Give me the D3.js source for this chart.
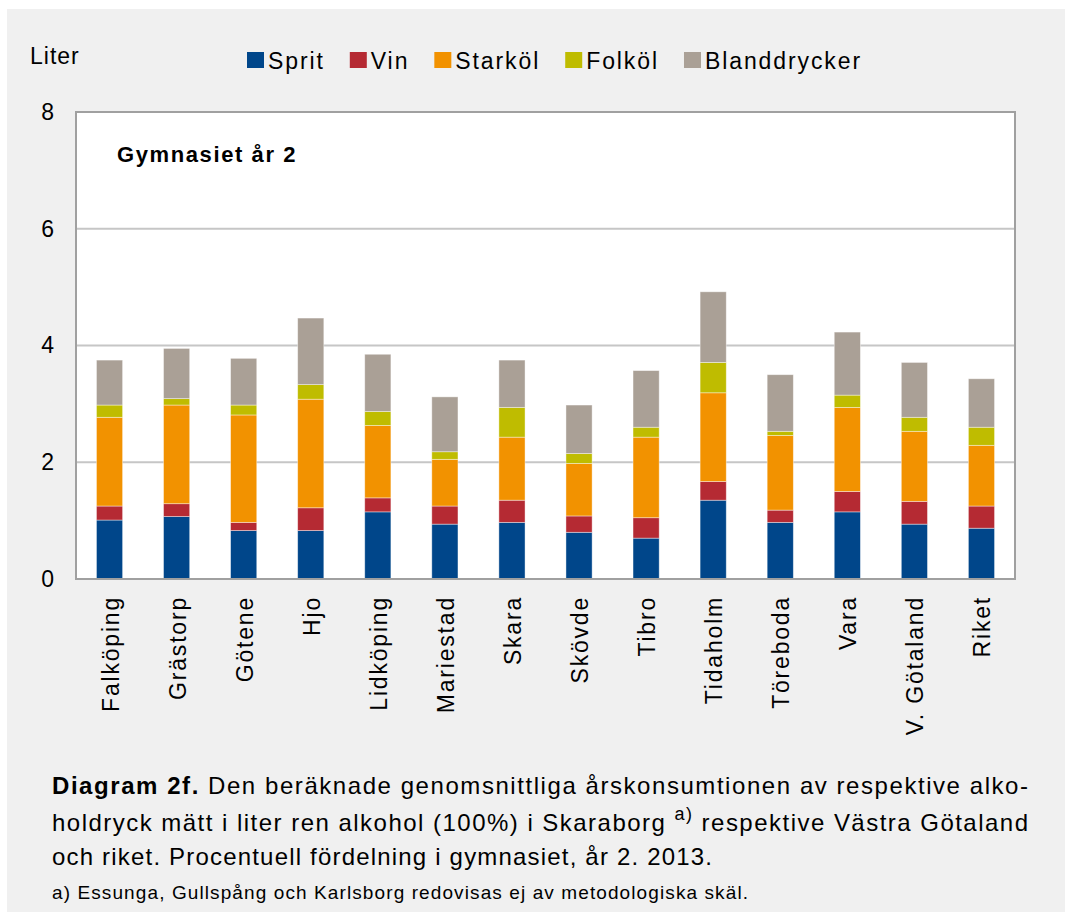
<!DOCTYPE html>
<html lang="sv">
<head>
<meta charset="utf-8">
<title>Diagram 2f</title>
<script src="https://d3js.org/d3.v7.min.js"></script>
<style>
  body { margin: 0; background: #fff; }
  svg text { font-family: "Liberation Sans", Arial, sans-serif; fill: #000; }
</style>
</head>
<body>
<script>
// kommuner + jamforelser
var kommuner = ["Falköping", "Grästorp", "Götene", "Hjo", "Lidköping", "Mariestad", "Skara",
                "Skövde", "Tibro", "Tidaholm", "Töreboda", "Vara", "V. Götaland", "Riket"];

// liter ren alkohol per dryckesslag
var sprit       = [1.01, 1.07, 0.83, 0.83, 1.15, 0.94, 0.97, 0.80, 0.70, 1.35, 0.97, 1.15, 0.94, 0.87];
var vin         = [0.24, 0.22, 0.14, 0.39, 0.24, 0.31, 0.38, 0.28, 0.35, 0.32, 0.21, 0.35, 0.39, 0.38];
var starkol     = [1.52, 1.69, 1.84, 1.86, 1.24, 0.80, 1.08, 0.90, 1.38, 1.52, 1.28, 1.44, 1.20, 1.04];
var folkol      = [0.21, 0.11, 0.17, 0.25, 0.24, 0.13, 0.51, 0.17, 0.17, 0.52, 0.07, 0.21, 0.24, 0.31];
var blandd      = [0.77, 0.86, 0.80, 1.14, 0.98, 0.94, 0.81, 0.83, 0.97, 1.21, 0.97, 1.08, 0.94, 0.83];

var serieNamn = ["Sprit", "Vin", "Starköl", "Folköl", "Blanddrycker"];
var serieFarg = ["#00468a", "#b52a33", "#f29200", "#bfbc00", "#aaa096"];
var yTicks = [0, 2, 4, 6, 8];

var W = 1065, H = 922;
var svg = d3.select("body").append("svg").attr("width", W).attr("height", H);

// grå bakgrund
svg.append("rect").attr("x", 7).attr("y", 9).attr("width", W - 7).attr("height", 903).attr("fill", "#f0f0f0");

var plot = {left: 76, right: 1015, top: 112, bottom: 579};

// tabell for stack
var rader = kommuner.map(function(k, i) {
  return {k: k, Sprit: sprit[i], Vin: vin[i], "Starköl": starkol[i], "Folköl": folkol[i], Blanddrycker: blandd[i]};
});
var stack = d3.stack().keys(serieNamn)(rader);

var x = d3.scaleBand().domain(kommuner).range([plot.left, plot.right]).paddingInner(0.61).paddingOuter(0.305);
var y = d3.scaleLinear().domain([0, 8]).range([plot.bottom, plot.top]);

svg.append("rect").attr("x", plot.left).attr("y", plot.top)
  .attr("width", plot.right - plot.left).attr("height", plot.bottom - plot.top)
  .attr("fill", "#fff");

// stodlinjer
svg.append("g").selectAll("line").data([2, 4, 6]).enter().append("line")
  .attr("x1", plot.left).attr("x2", plot.right)
  .attr("y1", function(d) { return y(d); }).attr("y2", function(d) { return y(d); })
  .attr("stroke", "#c6c6c6").attr("stroke-width", 2);

// staplar
svg.append("g").selectAll("g").data(stack).enter().append("g")
  .attr("fill", function(d, i) { return serieFarg[i]; })
  .selectAll("rect").data(function(d) { return d; }).enter().append("rect")
  .attr("x", function(d) { return x(d.data.k); })
  .attr("width", x.bandwidth())
  .attr("y", function(d) { return y(d[1]); })
  .attr("height", function(d) { return y(d[0]) - y(d[1]); })
  .attr("stroke", "#ffffff").attr("stroke-opacity", 0.5).attr("stroke-width", 0.8);

// ram
svg.append("rect").attr("x", plot.left).attr("y", plot.top)
  .attr("width", plot.right - plot.left).attr("height", plot.bottom - plot.top)
  .attr("fill", "none").attr("stroke", "#a0a0a0").attr("stroke-width", 2);

// y-axel
var yAxis = d3.axisLeft(y).tickValues(yTicks).tickSize(0).tickPadding(22).tickFormat(d3.format("d"));
var gy = svg.append("g").attr("transform", "translate(" + plot.left + ",0)").call(yAxis);
gy.select(".domain").remove();
gy.selectAll("text").style("font-size", "23px").style("font-family", "Liberation Sans, Arial, sans-serif");

// x-axel
var xAxis = d3.axisBottom(x).tickSize(0).tickPadding(0);
var gx = svg.append("g").attr("transform", "translate(0," + plot.bottom + ")").call(xAxis);
gx.select(".domain").remove();
gx.selectAll("text")
  .style("font-size", "23px").style("font-family", "Liberation Sans, Arial, sans-serif")
  .style("letter-spacing", "1.8px")
  .attr("text-anchor", "end")
  .attr("dy", null).attr("y", null)
  .attr("transform", "translate(9,17) rotate(-90)");

// titel i diagrammet
svg.append("text").attr("x", 117).attr("y", 162).attr("font-size", 22).attr("font-weight", "bold")
  .attr("letter-spacing", 1.6).text("Gymnasiet år 2");

svg.append("text").attr("x", 30).attr("y", 64).attr("font-size", 23).attr("letter-spacing", 1).text("Liter");

// legend
var lx = 247;
serieNamn.forEach(function(n, i) {
  svg.append("rect").attr("x", lx).attr("y", 52).attr("width", 17).attr("height", 16).attr("fill", serieFarg[i]);
  var t = svg.append("text").attr("x", lx + 21).attr("y", 69).attr("font-size", 23)
    .attr("letter-spacing", 1.9).text(n);
  lx += 21 + t.node().getComputedTextLength() + 25;
});

// bildtext
var cap = svg.append("g");
var l1 = cap.append("text").attr("x", 52).attr("y", 794).attr("font-size", 24)
  .attr("textLength", 976).attr("lengthAdjust", "spacing");
l1.append("tspan").attr("font-weight", "bold").text("Diagram 2f.");
l1.append("tspan").text(" Den beräknade genomsnittliga årskonsumtionen av respektive alko-");

var l2 = cap.append("text").attr("x", 52).attr("y", 831).attr("font-size", 24)
  .attr("textLength", 976).attr("lengthAdjust", "spacing");
l2.append("tspan").text("holdryck mätt i liter ren alkohol (100%) i Skaraborg ");
l2.append("tspan").attr("font-size", 18).attr("dy", -11).text("a)");
l2.append("tspan").attr("dy", 11).text(" respektive Västra Götaland");

cap.append("text").attr("x", 52).attr("y", 865).attr("font-size", 24)
  .attr("textLength", 660).attr("lengthAdjust", "spacing")
  .text("och riket. Procentuell fördelning i gymnasiet, år 2. 2013.");

cap.append("text").attr("x", 52).attr("y", 899).attr("font-size", 19)
  .attr("textLength", 696).attr("lengthAdjust", "spacing")
  .text("a) Essunga, Gullspång och Karlsborg redovisas ej av metodologiska skäl.");
</script>
</body>
</html>
